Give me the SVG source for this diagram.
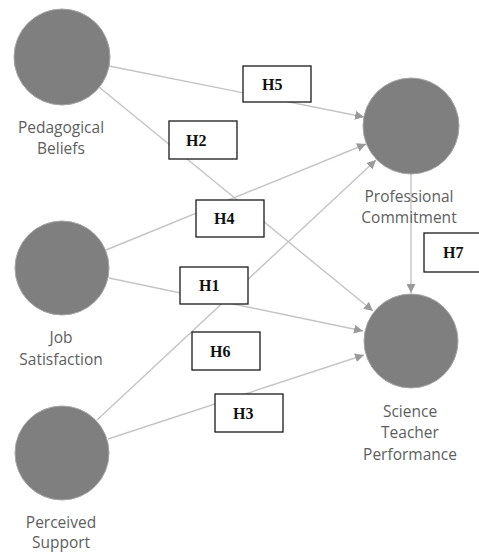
<svg xmlns="http://www.w3.org/2000/svg" width="479" height="553" viewBox="0 0 479 553">
<style>
.node circle{fill:#7f7f7f;stroke:#a6a6a6;stroke-width:1}
.lbl{font-family:"Open Sans","DejaVu Sans",sans-serif;font-size:15.5px;fill:#5e5e5e;text-anchor:middle}
.edge{stroke:#c4c4c4;stroke-width:1.4;fill:none;marker-end:url(#arr)}
.hbox rect{fill:#fff;stroke:#1a1a1a;stroke-width:1.3}
.hbox text{font-family:"Liberation Serif","DejaVu Serif",serif;font-weight:bold;font-size:16px;fill:#111}
</style>
<defs>
<marker id="arr" viewBox="0 0 10 10" refX="10" refY="5" markerWidth="9" markerHeight="9" markerUnits="userSpaceOnUse" orient="auto">
<path d="M0,0 L10,5 L0,10 z" fill="#9a9a9a"/>
</marker>
</defs>
<g id="connectors">
<line class="edge" x1="109" y1="66" x2="364" y2="117"/>
<line class="edge" x1="99" y1="87" x2="373" y2="311"/>
<line class="edge" x1="106" y1="250" x2="366" y2="144"/>
<line class="edge" x1="109" y1="278" x2="363" y2="331"/>
<line class="edge" x1="97" y1="420" x2="376" y2="160"/>
<line class="edge" x1="108" y1="439" x2="364" y2="355"/>
<line class="edge" x1="411" y1="174" x2="411" y2="293"/>
<g class="hbox"><rect x="243" y="66" width="68" height="36"/><text x="262" y="90">H5</text></g>
<g class="hbox"><rect x="169" y="121" width="68" height="38"/><text x="186" y="146">H2</text></g>
<g class="hbox"><rect x="196" y="200" width="68" height="37"/><text x="214" y="224">H4</text></g>
<g class="hbox"><rect x="180" y="267" width="68" height="37"/><text x="199" y="291">H1</text></g>
<g class="hbox"><rect x="192" y="332" width="68" height="38"/><text x="210" y="357">H6</text></g>
<g class="hbox"><rect x="215" y="394" width="68" height="38"/><text x="233" y="419">H3</text></g>
<g class="hbox"><rect x="424" y="233" width="62" height="39"/><text x="443" y="258">H7</text></g>
</g>
<g id="pedagogical-beliefs" class="node">
<circle cx="62" cy="57" r="48"/>
<text class="lbl" x="61" y="133">Pedagogical</text>
<text class="lbl" x="61" y="154">Beliefs</text>
</g>
<g id="job-satisfaction" class="node">
<circle cx="62" cy="268" r="47"/>
<text class="lbl" x="61" y="343">Job</text>
<text class="lbl" x="61" y="365">Satisfaction</text>
</g>
<g id="perceived-support" class="node">
<circle cx="62" cy="453" r="47"/>
<text class="lbl" x="61" y="528">Perceived</text>
<text class="lbl" x="61" y="548">Support</text>
</g>
<g id="professional-commitment" class="node">
<circle cx="411" cy="126" r="48"/>
<text class="lbl" x="409" y="202">Professional</text>
<text class="lbl" x="409" y="223">Commitment</text>
</g>
<g id="science-teacher-performance" class="node">
<circle cx="411" cy="341" r="47"/>
<text class="lbl" x="410" y="417">Science</text>
<text class="lbl" x="410" y="438">Teacher</text>
<text class="lbl" x="410" y="460">Performance</text>
</g>
</svg>
